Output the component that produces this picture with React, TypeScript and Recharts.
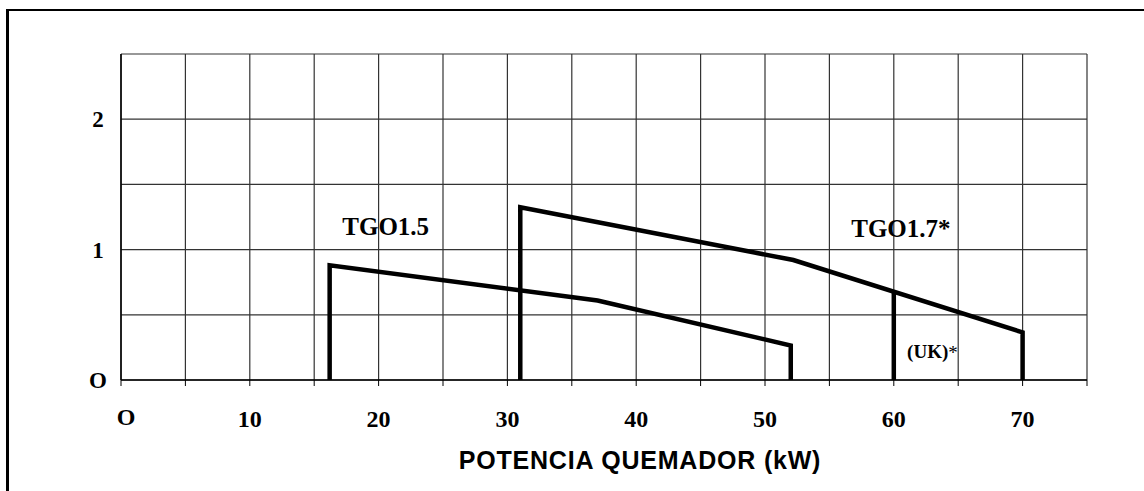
import { LineChart, Line, XAxis, YAxis, CartesianGrid, ReferenceDot, Label } from "recharts";

// ─── Data ─────────────────────────────────────────────────────────────
const xTicks = [0, 5, 10, 15, 20, 25, 30, 35, 40, 45, 50, 55, 60, 65, 70, 75];
const yTicks = [0, 0.5, 1, 1.5, 2, 2.5];
const xTickLabels: Record<number, string> = { 0: "O", 10: "10", 20: "20", 30: "30", 40: "40", 50: "50", 60: "60", 70: "70" };
const yTickLabels: Record<number, string> = { 0: "O", 1: "1", 2: "2" };

// TGO1.5 envelope
const tgo15X = [16.2, 16.2, 37, 52, 52];
const tgo15Y = [0, 0.88, 0.61, 0.265, 0];

// TGO1.7* envelope
const tgo17X = [31, 31, 52.2, 70, 70];
const tgo17Y = [0, 1.325, 0.92, 0.365, 0];

// UK limit
const ukX = [60, 60];
const ukY = [0, 0.67];

const toPoints = (xs: number[], ys: number[]) => xs.map((x, i) => ({ x, y: ys[i] }));
const tgo15 = toPoints(tgo15X, tgo15Y);
const tgo17 = toPoints(tgo17X, tgo17Y);
const uk = toPoints(ukX, ukY);

const SERIF = '"Liberation Serif", "Times New Roman", serif';
const SANS = '"Liberation Sans", Arial, sans-serif';

function XTick(props: any) {
  const { x, y, payload } = props;
  const label = xTickLabels[payload.value];
  if (!label) return <g />;
  return (
    <text x={x + (payload.value === 0 ? 5 : 0)} y={y + (payload.value === 0 ? 37 : 39)} textAnchor="middle"
      fontFamily={SERIF} fontWeight="bold" fontSize={24} fill="#000">
      {label}
    </text>
  );
}

function YTick(props: any) {
  const { x, y, payload } = props;
  const label = yTickLabels[payload.value];
  if (!label) return <g />;
  return (
    <text x={x - 15} y={y + 8} textAnchor="middle" fontFamily={SERIF} fontWeight="bold" fontSize={23} fill="#000">
      {label}
    </text>
  );
}

const textShape = (content: React.ReactNode, size: number) => (p: any) => (
  <text x={p.cx} y={p.cy} textAnchor="middle" dominantBaseline="central"
    fontFamily={SERIF} fontWeight="bold" fontSize={size} fill="#000">
    {content}
  </text>
);

export default function App() {
  return (
    <div style={{ position: "absolute", left: 0, top: 0, width: 1144, height: 491, overflow: "hidden", background: "#fff" }}>
      <div style={{ position: "absolute", left: 6, top: 9, width: 1300, height: 700, borderLeft: "3px solid #000", borderTop: "2px solid #000" }} />
      <div style={{ position: "absolute", left: 0, top: 0 }}>
        <LineChart width={1144} height={491} margin={{ top: 54, right: 57, bottom: 11, left: 61 }}>
          <CartesianGrid stroke="#333" strokeWidth={1.2} />
          <XAxis type="number" dataKey="x" domain={[0, 75]} ticks={xTicks} interval={0} height={100}
            axisLine={{ stroke: "#000", strokeWidth: 1.5 }} tickLine={{ stroke: "#000" }} tickSize={6} tick={<XTick />}>
            <Label value="POTENCIA QUEMADOR (kW)" position="insideBottom" offset={11} dx={36}
              fontFamily={SANS} fontWeight="bold" fontSize={25} letterSpacing={0.8} fill="#000" />
          </XAxis>
          <YAxis type="number" domain={[0, 2.5]} ticks={yTicks} interval={0} width={60}
            axisLine={{ stroke: "#000", strokeWidth: 1.5 }} tickLine={false} tick={<YTick />} />
          <Line data={tgo15} dataKey="y" type="linear" stroke="#000" strokeWidth={4.5} dot={false}
            strokeLinejoin="miter" isAnimationActive={false} />
          <Line data={tgo17} dataKey="y" type="linear" stroke="#000" strokeWidth={4.5} dot={false}
            strokeLinejoin="miter" isAnimationActive={false} />
          <Line data={uk} dataKey="y" type="linear" stroke="#000" strokeWidth={4.5} dot={false}
            strokeLinejoin="miter" isAnimationActive={false} />
          <ReferenceDot x={20.55} y={1.18} r={0} shape={textShape("TGO1.5", 25)} />
          <ReferenceDot x={60.55} y={1.16} r={0} shape={textShape("TGO1.7*", 25)} />
          <ReferenceDot x={63} y={0.215} r={0}
            shape={textShape(<>(UK)<tspan fontWeight="normal">*</tspan></>, 19)} />
        </LineChart>
      </div>
    </div>
  );
}
